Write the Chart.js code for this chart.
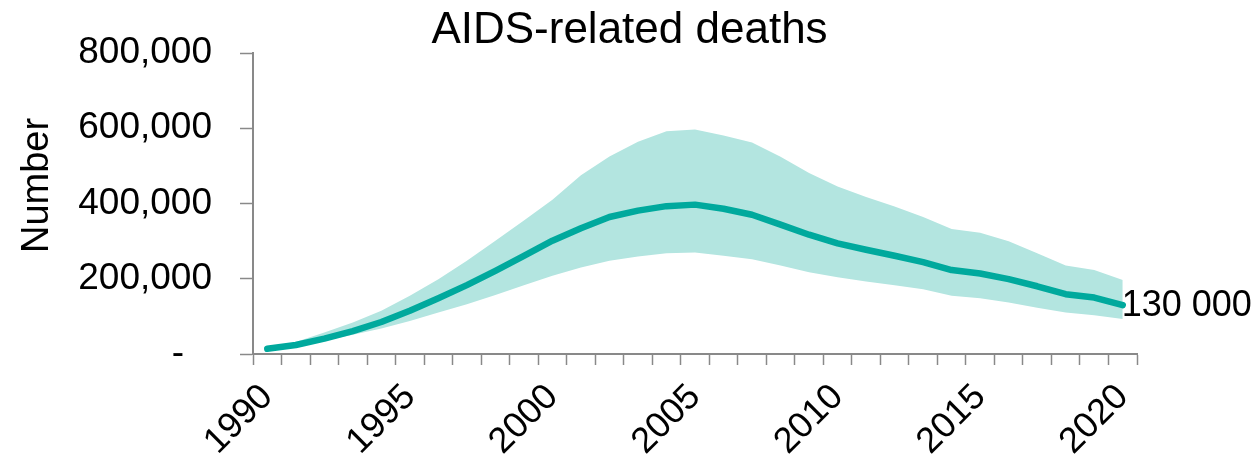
<!DOCTYPE html>
<html>
<head>
<meta charset="utf-8">
<title>AIDS-related deaths</title>
<script src="https://cdn.jsdelivr.net/npm/chart.js@4/dist/chart.umd.min.js"></script>
<style>
  html, body { margin: 0; padding: 0; background: #ffffff; }
  #wrap { width: 1259px; height: 459px; }
</style>
</head>
<body>
<div id="wrap"><canvas id="c" width="1259" height="459"></canvas></div>
<script>
// Categories: one per year
const years = [1990, 1991, 1992, 1993, 1994, 1995, 1996, 1997, 1998, 1999,
               2000, 2001, 2002, 2003, 2004, 2005, 2006, 2007, 2008, 2009,
               2010, 2011, 2012, 2013, 2014, 2015, 2016, 2017, 2018, 2019, 2020];

// Central estimate of AIDS-related deaths
const deaths = [14000, 24000, 41000, 61000, 85000, 115000, 148000, 183000, 221000, 261000,
                301000, 334000, 364000, 381000, 393000, 397000, 386000, 370000, 344000, 317000,
                294000, 277000, 261000, 244000, 223000, 214000, 199000, 180000, 159000, 150000,
                130000];

// Uncertainty bounds
const upperBound = [16000, 32000, 57000, 84000, 115000, 155000, 199000, 248000, 301000, 355000,
                    410000, 475000, 525000, 564000, 592000, 597000, 581000, 562000, 524000, 481000,
                    445000, 417000, 392000, 364000, 332000, 322000, 300000, 268000, 235000, 223000,
                    197000];
const lowerBound = [12000, 21000, 35000, 51000, 68000, 88000, 110000, 132000, 157000, 183000,
                    208000, 230000, 248000, 259000, 268000, 270000, 261000, 252000, 235000, 217000,
                    204000, 193000, 183000, 172000, 155000, 148000, 137000, 123000, 110000, 103000,
                    93000];

// Y-axis ticks
const yTicks = [0, 200000, 400000, 600000, 800000];

const FONT = '"Liberation Sans", Arial, Helvetica, sans-serif';
const LINE = '#00A99D';
const BAND = '#B3E5E0';
const AXIS = '#898989';

function spaced(v) {
  return String(v).replace(/\B(?=(\d{3})+(?!\d))/g, ' ');
}

// Writes the latest value next to the end of the central line
const endLabel = {
  id: 'endLabel',
  afterDatasetsDraw(chart) {
    const meta = chart.getDatasetMeta(0);
    const last = meta.data.length - 1;
    const pt = meta.data[last];
    const v = chart.data.datasets[0].data[last];
    const ctx = chart.ctx;
    ctx.save();
    ctx.font = '36px ' + FONT;
    ctx.fillStyle = '#000000';
    ctx.textAlign = 'left';
    ctx.textBaseline = 'middle';
    ctx.fillText(spaced(v), pt.x - 1, pt.y + 1);
    ctx.restore();
  }
};

// Vertical axis title, set a little above the middle of the plot
const yTitle = {
  id: 'yTitle',
  afterDraw(chart) {
    const area = chart.chartArea;
    const ctx = chart.ctx;
    ctx.save();
    ctx.font = '38px ' + FONT;
    ctx.fillStyle = '#000000';
    ctx.textAlign = 'center';
    ctx.textBaseline = 'middle';
    ctx.translate(38, area.top + (area.bottom - area.top) * 0.44);
    ctx.rotate(-Math.PI / 2);
    ctx.fillText('Number', 0, 0);
    ctx.restore();
  }
};

new Chart(document.getElementById('c'), {
  type: 'line',
  data: {
    labels: years,
    datasets: [
      {
        label: 'AIDS-related deaths',
        data: deaths,
        borderColor: LINE,
        borderWidth: 6.5,
        borderCapStyle: 'round',
        borderJoinStyle: 'round',
        pointRadius: 0,
        tension: 0,
        fill: false,
        order: 0
      },
      {
        label: 'Upper',
        data: upperBound,
        borderWidth: 0,
        borderColor: 'rgba(0,0,0,0)',
        backgroundColor: BAND,
        pointRadius: 0,
        tension: 0,
        fill: 2,
        order: 1
      },
      {
        label: 'Lower',
        data: lowerBound,
        borderWidth: 0,
        borderColor: 'rgba(0,0,0,0)',
        pointRadius: 0,
        tension: 0,
        fill: false,
        order: 2
      }
    ]
  },
  options: {
    responsive: false,
    animation: false,
    devicePixelRatio: 1,
    layout: { padding: 0 },
    plugins: {
      legend: { display: false },
      tooltip: { enabled: false },
      title: {
        display: true,
        text: 'AIDS-related deaths',
        color: '#000000',
        font: { family: FONT, size: 44, weight: 'normal', lineHeight: 45 / 44 },
        padding: { top: 8, bottom: 0 }
      }
    },
    scales: {
      x: {
        type: 'category',
        offset: true,
        grid: {
          offset: true,
          drawOnChartArea: false,
          drawTicks: true,
          tickLength: 11,
          tickWidth: 1.5,
          tickColor: AXIS
        },
        border: { display: true, color: AXIS, width: 2 },
        ticks: {
          autoSkip: false,
          minRotation: 45,
          maxRotation: 45,
          padding: 11,
          color: '#000000',
          font: { family: FONT, size: 36 },
          callback(value, index) {
            const y = years[index];
            return y % 5 === 0 ? String(y) : '';
          }
        },
        afterFit(scale) { scale.height = 105; }
      },
      y: {
        min: 0,
        max: 800000,
        afterBuildTicks(scale) { scale.ticks = yTicks.map(v => ({ value: v })); },
        grid: {
          drawOnChartArea: false,
          drawTicks: true,
          tickLength: 13,
          tickWidth: 1.5,
          tickColor: AXIS
        },
        border: { display: true, color: AXIS, width: 2 },
        ticks: {
          padding: 28,
          color: '#000000',
          font: { family: FONT, size: 37 },
          callback(value) {
            return value === 0 ? '-  \u2009' : Number(value).toLocaleString('en-US');
          }
        },
        afterFit(scale) { scale.width = 253; }
      },
      yRight: {
        position: 'right',
        display: true,
        min: 0,
        max: 800000,
        grid: { display: false },
        border: { display: false },
        ticks: { display: false },
        afterFit(scale) { scale.width = 122; }
      }
    }
  },
  plugins: [endLabel, yTitle]
});
</script>
</body>
</html>
